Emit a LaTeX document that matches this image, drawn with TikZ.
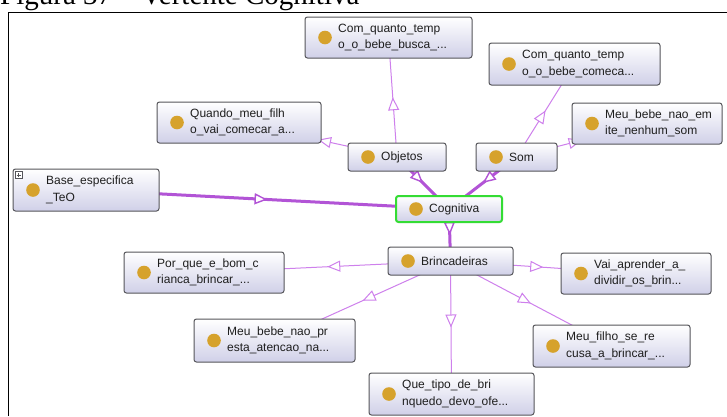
\documentclass[tikz,border=0pt]{standalone}
\usepackage{fontspec}
\setmainfont{Liberation Sans}
\newfontfamily\capfont{Liberation Serif}
\usetikzlibrary{arrows.meta,decorations.markings}
\pgfdeclarelayer{background}
\pgfsetlayers{background,main}
\definecolor{thinedgecol}{RGB}{206,128,236}
\definecolor{thickedgecol}{RGB}{178,84,214}
\definecolor{boxborder}{RGB}{85,85,90}
\definecolor{boxbottom}{RGB}{208,208,232}
\definecolor{dotcol}{RGB}{214,162,44}
\definecolor{selgreen}{RGB}{52,220,52}
\definecolor{txtcol}{RGB}{30,30,30}
\tikzset{
  ontobox/.style={draw=boxborder, line width=1pt, rounded corners=2.5pt,
    top color=white, bottom color=boxbottom, inner sep=0pt, outer sep=0pt},
  ontotext/.style={inner sep=0pt, align=left, text=txtcol,
    font=\fontsize{12}{16.5}\selectfont, anchor=west},
  midarrow/.style={postaction={decorate}, decoration={markings,
    mark=at position 0.5 with {\arrow{Triangle[length=13pt, width=11pt, fill=white, line width=#1]}}}},
  thinedge/.style={draw=thinedgecol, line width=1pt, midarrow=1pt},
  thickedge/.style={draw=thickedgecol, line width=3pt, midarrow=1.4pt},
}
\newcommand\onto[7]{%
  \node[ontobox,#7, minimum width={#4-#2}, minimum height={#5-#3}] (#1) at ({(#2+#4)/2},{(#3+#5)/2}) {};
  \fill[dotcol] ([xshift=20pt]#1.west) circle (6.8pt);
  \node[ontotext] (#1-t) at ([xshift=33pt]#1.west) {#6};
}
\begin{document}
\begin{tikzpicture}[x=1pt,y=-1pt]
\useasboundingbox (0,0) rectangle (727,416);
\clip (0,0) rectangle (727,416);
\begin{pgfonlayer}{background}
\fill[white] (0,0) rectangle (727,416);
\end{pgfonlayer}
% caption and frame
\node[anchor=base west, inner sep=0pt, font=\capfont\fontsize{29}{30}\selectfont] (cap) at (0,4) {Figura 37 – Vertente Cognitiva};
\draw[line width=1.2pt, black] (8.5,416) -- (8.5,12.5) -- (727,12.5);
% nodes
\onto{busca}{305}{17}{472}{58}{Com\_quanto\_temp\\o\_o\_bebe\_busca\_...}{}
\onto{comeca}{489}{43}{660}{85}{Com\_quanto\_temp\\o\_o\_bebe\_comeca...}{}
\onto{quando}{157}{102}{321}{143}{Quando\_meu\_filh\\o\_vai\_comecar\_a...}{}
\onto{bebeem}{572}{103}{722}{144}{Meu\_bebe\_nao\_em\\ite\_nenhum\_som}{}
\onto{objetos}{348}{143}{446}{171}{Objetos}{}
\onto{som}{476}{143}{557}{171}{Som}{}
\onto{cog}{396}{196}{502}{222}{Cognitiva}{draw=selgreen, line width=2pt}
\onto{base}{13}{169}{159}{211}{Base\_especifica\\\_TeO}{}
\onto{brinc}{388}{247}{513}{275}{Brincadeiras}{}
\onto{porque}{124}{252}{284}{293}{Por\_que\_e\_bom\_c\\rianca\_brincar\_...}{}
\onto{vai}{561}{253}{711}{294}{Vai\_aprender\_a\_\\dividir\_os\_brin...}{}
\onto{bebepr}{194}{319}{355}{362}{Meu\_bebe\_nao\_pr\\esta\_atencao\_na...}{}
\onto{filho}{533}{325}{690}{367}{Meu\_filho\_se\_re\\cusa\_a\_brincar\_...}{}
\onto{que}{369}{373}{534}{415}{Que\_tipo\_de\_bri\\nquedo\_devo\_ofe...}{}
% expand icon on base
\node[draw=boxborder, line width=0.6pt, fill=white, minimum size=7pt, inner sep=0pt] (plus) at (18.5,175) {};
\draw[boxborder, line width=0.7pt] ([xshift=-2pt]plus.center) -- ([xshift=2pt]plus.center)
  ([yshift=-2pt]plus.center) -- ([yshift=2pt]plus.center);
% edges
\begin{pgfonlayer}{background}
\path[thickedge] (base.center) -- (cog.center);
\path[thickedge] (objetos.center) -- (cog.center);
\path[thickedge] (som.center) -- (cog.center);
\path[thickedge] (cog.center) -- (brinc.center);
\path[thinedge] (objetos.center) -- (busca.center);
\path[thinedge] (objetos.center) -- (quando.center);
\path[thinedge] (som.center) -- (comeca.center);
\path[thinedge] (som.center) -- (bebeem.center);
\path[thinedge] (brinc.center) -- (porque.center);
\path[thinedge] (brinc.center) -- (vai.center);
\path[thinedge] (brinc.center) -- (bebepr.center);
\path[thinedge] (brinc.center) -- (que.center);
\path[thinedge] (brinc.center) -- (filho.center);
\end{pgfonlayer}
\end{tikzpicture}
\end{document}
